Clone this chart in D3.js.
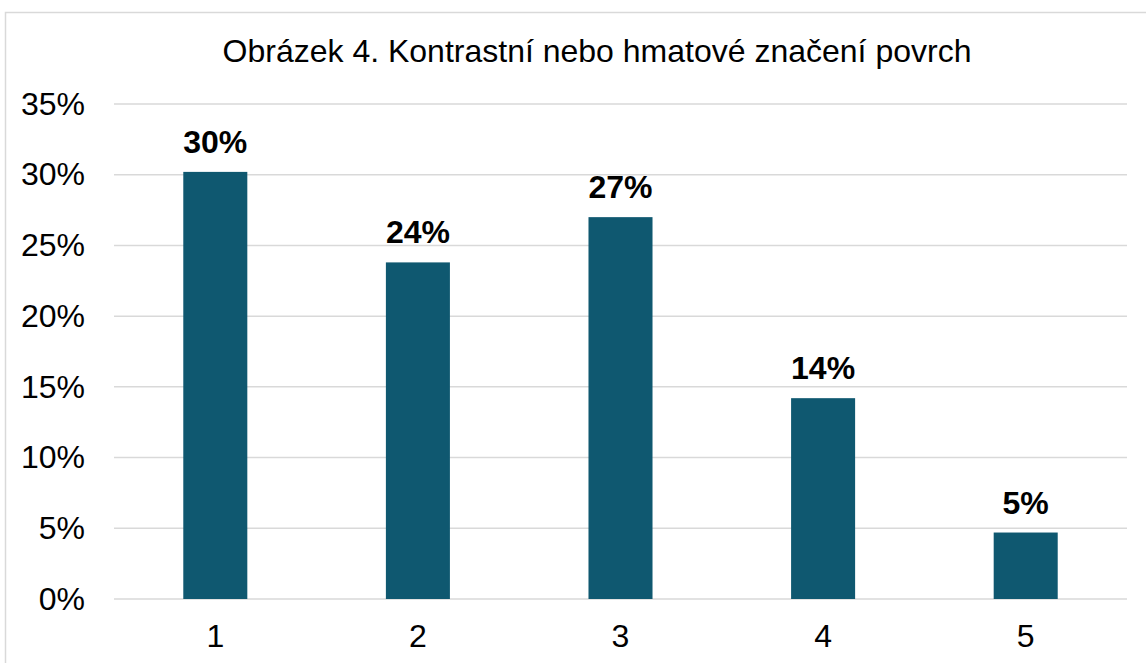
<!DOCTYPE html>
<html>
<head>
<meta charset="utf-8">
<script src="https://cdn.jsdelivr.net/npm/d3@7"></script>
<style>
    body { margin: 0; background: #fff; }
    text { font-family: "Liberation Sans", Arial, sans-serif; fill: #000; }
</style>
</head>
<body>
<div id="chart"></div>
<script>
// chart data
const titleText = "Obrázek 4. Kontrastní nebo hmatové značení povrch";
const categories = ["1", "2", "3", "4", "5"];
const values = [0.302, 0.238, 0.270, 0.142, 0.047];
const valueLabels = ["30%", "24%", "27%", "14%", "5%"];
const yTicks = [0, 0.05, 0.10, 0.15, 0.20, 0.25, 0.30, 0.35];

const width = 1146, height = 663;
const margin = {top: 104, right: 19, bottom: 64, left: 114};
const innerW = width - margin.left - margin.right;
const innerH = height - margin.top - margin.bottom;

const svg = d3.select("#chart").append("svg")
    .attr("width", width)
    .attr("height", height);

// outer frame
svg.append("rect")
    .attr("x", 5.5).attr("y", 12.5)
    .attr("width", width + 10).attr("height", height + 10)
    .attr("fill", "none")
    .attr("stroke", "#d9d9d9")
    .attr("stroke-width", 1.5);

// title
svg.append("text")
    .attr("x", 597)
    .attr("y", 62)
    .attr("text-anchor", "middle")
    .style("font-size", "32px")
    .text(titleText);

const g = svg.append("g")
    .attr("transform", `translate(${margin.left},${margin.top})`);

// scales
const x = d3.scaleBand()
    .domain(categories)
    .range([0, innerW])
    .paddingInner(0.684)
    .paddingOuter(0.342);

const y = d3.scaleLinear()
    .domain([0, 0.35])
    .range([innerH, 0]);

// gridlines
g.append("g")
    .selectAll("line")
    .data(yTicks)
    .join("line")
    .attr("x1", 0)
    .attr("x2", innerW)
    .attr("y1", d => y(d))
    .attr("y2", d => y(d))
    .attr("stroke", "#d9d9d9")
    .attr("stroke-width", 1.5);

// y axis labels
const yAxis = g.append("g")
    .call(d3.axisLeft(y).tickValues(yTicks).tickFormat(d3.format(".0%")).tickSize(0).tickPadding(29));
yAxis.select(".domain").remove();
yAxis.selectAll("text")
    .style("font-size", "32px")
    .attr("font-family", null);

// x axis labels
const xAxis = g.append("g")
    .attr("transform", `translate(0,${innerH})`)
    .call(d3.axisBottom(x).tickSize(0).tickPadding(25));
xAxis.select(".domain").remove();
xAxis.selectAll("text")
    .style("font-size", "32px")
    .attr("font-family", null);

// bars
g.selectAll(".bar")
    .data(values)
    .join("rect")
    .attr("class", "bar")
    .attr("x", (d, i) => x(categories[i]))
    .attr("width", x.bandwidth())
    .attr("y", d => y(d))
    .attr("height", d => innerH - y(d))
    .attr("fill", "#0f5870");

// value labels
g.selectAll(".val")
    .data(values)
    .join("text")
    .attr("class", "val")
    .attr("x", (d, i) => x(categories[i]) + x.bandwidth() / 2)
    .attr("y", d => y(d) - 19)
    .attr("text-anchor", "middle")
    .style("font-size", "32px")
    .style("font-weight", "bold")
    .text((d, i) => valueLabels[i]);
</script>
</body>
</html>
